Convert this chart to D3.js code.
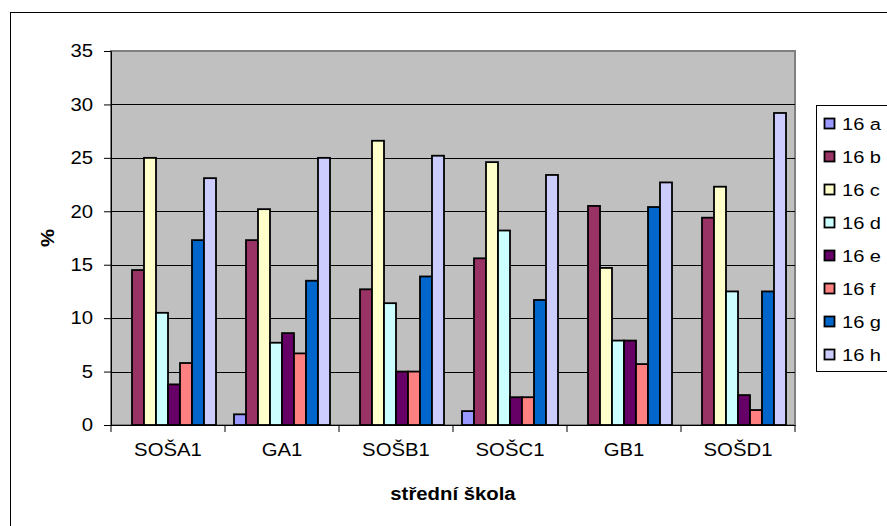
<!DOCTYPE html>
<html>
<head>
<meta charset="utf-8">
<script src="https://cdn.jsdelivr.net/npm/d3@7"></script>
<style>
  body { margin: 0; background: #fff; }
  text { font-family: "Liberation Sans", Arial, sans-serif; }
</style>
</head>
<body>
<div id="chart"></div>
<script>
// data
var schools = ["SOŠA1", "GA1", "SOŠB1", "SOŠC1", "GB1", "SOŠD1"];
var series = ["16 a", "16 b", "16 c", "16 d", "16 e", "16 f", "16 g", "16 h"];
var colors = ["#9999FF", "#993366", "#FFFFCC", "#CCFFFF", "#660066", "#FF8080", "#0066CC", "#CCCCFF"];
var v16a = [0, 1.0, 0, 1.3, 0, 0];
var v16b = [14.5, 17.3, 12.7, 15.6, 20.5, 19.4];
var v16c = [25.0, 20.2, 26.6, 24.6, 14.7, 22.3];
var v16d = [10.5, 7.7, 11.4, 18.2, 7.9, 12.5];
var v16e = [3.8, 8.6, 5.0, 2.6, 7.9, 2.8];
var v16f = [5.8, 6.7, 5.0, 2.6, 5.7, 1.4];
var v16g = [17.3, 13.5, 13.9, 11.7, 20.4, 12.5];
var v16h = [23.1, 25.0, 25.2, 23.4, 22.7, 29.2];
var yTicks = [0, 5, 10, 15, 20, 25, 30, 35];

var allVals = [v16a, v16b, v16c, v16d, v16e, v16f, v16g, v16h];

// text in the original is a bit wider than Arial
var SX = 1.13;

function stretch(sel)
{
  sel.each(function() {
    var t = d3.select(this);
    var x = +t.attr("x") || 0;
    t.attr("x", x / SX).attr("transform", "scale(" + SX + ",1)");
  });
}

function drawChart()
{
var W = 887, H = 526;
var plotL = 111, plotR = 795, plotT = 51, plotB = 425;

var svg = d3.select("#chart").append("svg")
    .attr("width", W)
    .attr("height", H);

// outer chart frame (runs off the right / bottom edge)
svg.append("rect")
  .attr("x", 10.5).attr("y", 12.5)
  .attr("width", 900).attr("height", 540)
  .attr("fill", "#fff")
  .attr("stroke", "#000").attr("stroke-width", 1);

var x0 = d3.scaleBand().domain(schools).range([plotL, plotR]).padding(0);
var gap = x0.bandwidth() * 0.75 / 9.5;
var x1 = d3.scaleBand().domain(series)
  .range([gap, x0.bandwidth() - gap]).padding(0);
var y = d3.scaleLinear().domain([0, 35]).range([plotB, plotT]);

// plot area
svg.append("rect")
  .attr("x", plotL).attr("y", plotT)
  .attr("width", plotR - plotL).attr("height", plotB - plotT)
  .attr("fill", "#C0C0C0")
  .attr("stroke", "#808080").attr("stroke-width", 2);

// gridlines
svg.append("g")
  .selectAll("line")
  .data(yTicks.slice(1, -1))
  .enter().append("line")
  .attr("x1", plotL).attr("x2", plotR)
  .attr("y1", function(d) { return Math.round(y(d)) + 0.5; })
  .attr("y2", function(d) { return Math.round(y(d)) + 0.5; })
  .attr("stroke", "#000").attr("stroke-width", 1);

// bars
var groups = svg.append("g").selectAll("g")
  .data(schools)
  .enter().append("g")
  .attr("transform", function(d) { return "translate(" + x0(d) + ",0)"; });

groups.selectAll("rect")
  .data(function(d, i) {
    return series.map(function(s, j) { return { s: s, j: j, v: allVals[j][i] }; })
      .filter(function(e) { return e.v > 0; });
  })
  .enter().append("rect")
  .attr("x", function(d) { return x1(d.s); })
  .attr("y", function(d) { return y(d.v); })
  .attr("width", x1.bandwidth())
  .attr("height", function(d) { return plotB - y(d.v); })
  .attr("fill", function(d) { return colors[d.j]; })
  .attr("stroke", "#000").attr("stroke-width", 1.8);

// y axis
var yAxis = svg.append("g")
  .attr("transform", "translate(" + plotL + ",0)")
  .call(d3.axisLeft(y).tickValues(yTicks).tickSize(7).tickPadding(11));
yAxis.select(".domain").attr("stroke", "#000");
yAxis.selectAll("line").attr("stroke", "#000");
yAxis.selectAll("text").attr("font-size", 18).attr("fill", "#000")
  .style("font-family", "'Liberation Sans', Arial, sans-serif")
  .call(stretch);

// x axis
var xAxis = svg.append("g")
  .attr("transform", "translate(0," + plotB + ")")
  .call(d3.axisBottom(x0).tickSize(0).tickPadding(18));
xAxis.select(".domain").attr("stroke", "#000");
xAxis.selectAll("text").attr("font-size", 18).attr("fill", "#000")
  .style("font-family", "'Liberation Sans', Arial, sans-serif")
  .call(stretch);

svg.append("g").selectAll("line")
  .data(d3.range(schools.length + 1))
  .enter().append("line")
  .attr("x1", function(i) { return plotL + i * x0.step(); })
  .attr("x2", function(i) { return plotL + i * x0.step(); })
  .attr("y1", plotB).attr("y2", plotB + 7)
  .attr("stroke", "#000");

// axis titles
svg.append("text")
  .attr("transform", "translate(" + ((plotL + plotR) / 2) + ",500) scale(" + SX + ",1)")
  .attr("text-anchor", "middle")
  .attr("font-size", 18).attr("font-weight", "bold")
  .text("střední škola");

svg.append("text")
  .attr("transform", "translate(54," + ((plotT + plotB) / 2) + ") rotate(-90) scale(" + SX + ",1)")
  .attr("text-anchor", "middle")
  .attr("font-size", 18).attr("font-weight", "bold")
  .text("%");

// legend
var legend = svg.append("g").attr("transform", "translate(816,105)");
legend.append("rect")
  .attr("x", 0.5).attr("y", 0.5)
  .attr("width", 100).attr("height", 266)
  .attr("fill", "#fff").attr("stroke", "#000");

var item = legend.selectAll("g.item")
  .data(series)
  .enter().append("g")
  .attr("class", "item")
  .attr("transform", function(d, i) { return "translate(0," + (18 + i * 33) + ")"; });

item.append("rect")
  .attr("x", 8.5).attr("y", -4.5)
  .attr("width", 10).attr("height", 10)
  .attr("fill", function(d, i) { return colors[i]; })
  .attr("stroke", "#000").attr("stroke-width", 1.8);

item.append("text")
  .attr("transform", "translate(26,6.5) scale(1.18,1)")
  .attr("font-size", 17)
  .text(function(d) { return d; });
}

drawChart();
</script>
</body>
</html>
